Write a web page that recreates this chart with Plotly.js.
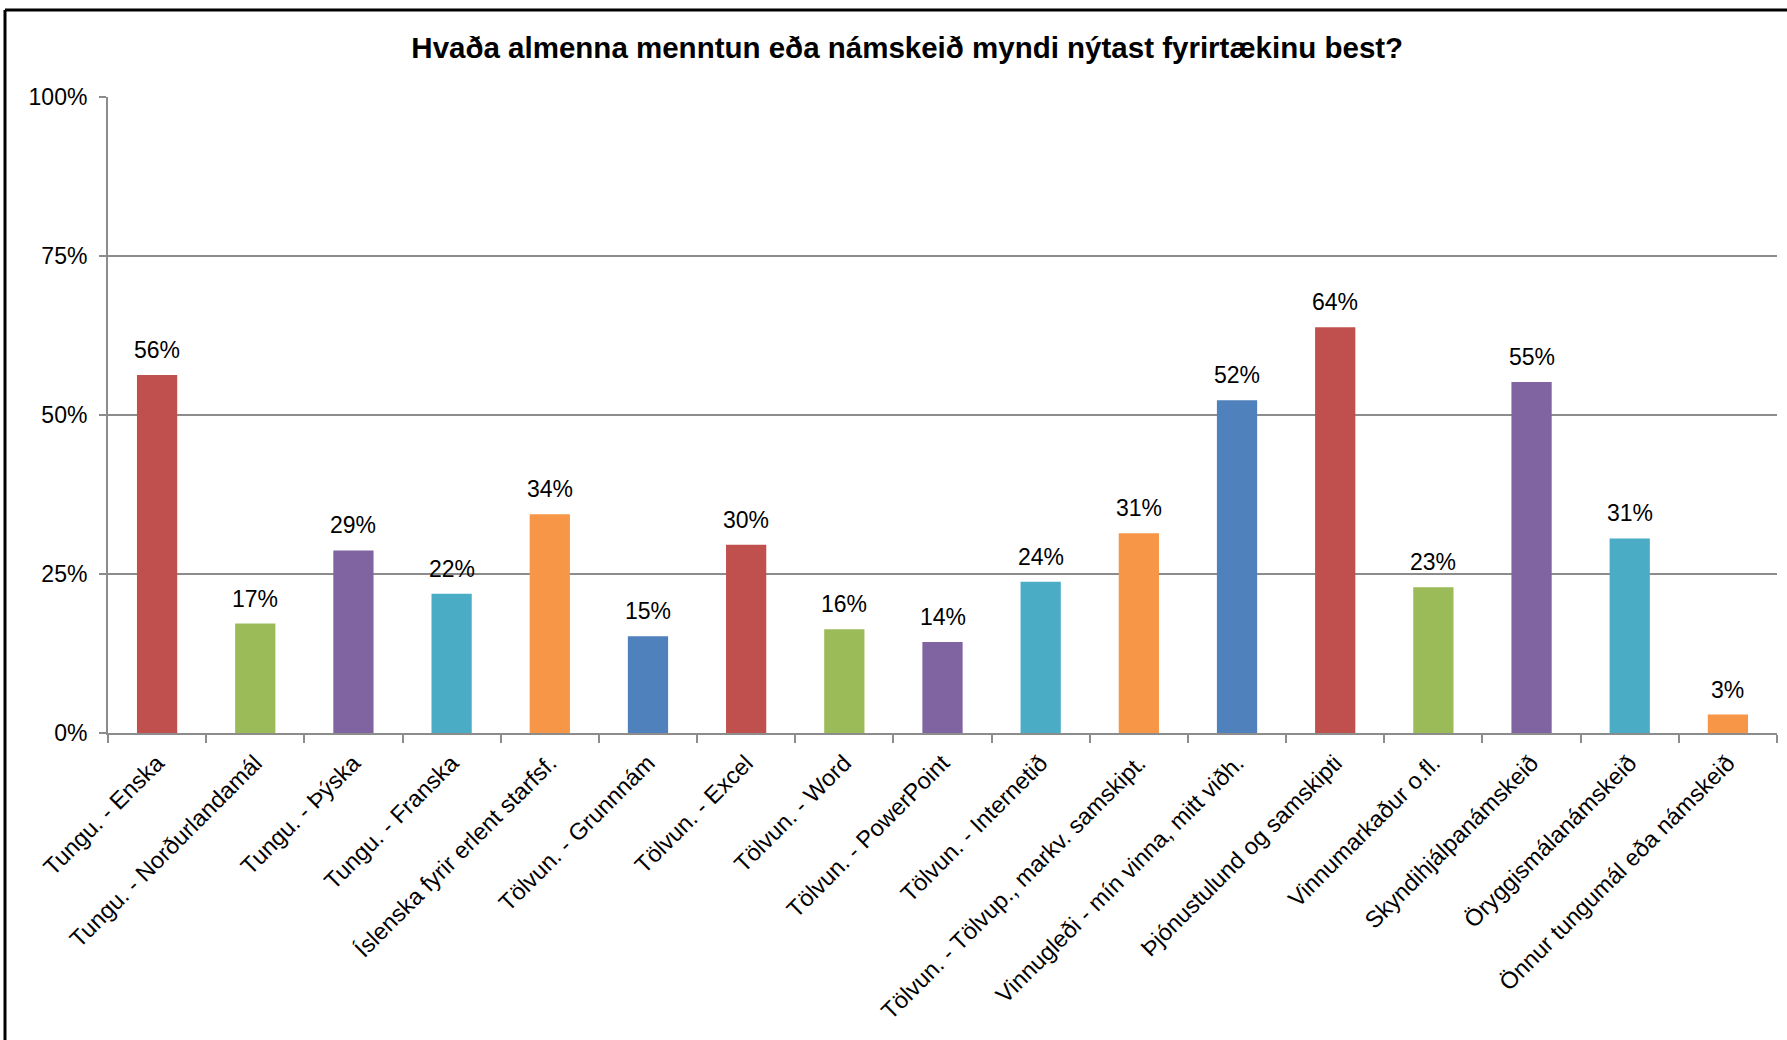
<!DOCTYPE html>
<html>
<head>
<meta charset="utf-8">
<script src="https://cdn.plot.ly/plotly-3.0.1.min.js"></script>
<style>
html,body{margin:0;padding:0;background:#fff;}
#chart{width:1787px;height:1040px;}
</style>
</head>
<body>
<div id="chart"></div>
<script>
const categories = [
  "Tungu. - Enska",
  "Tungu. - Norðurlandamál",
  "Tungu. - Þýska",
  "Tungu. - Franska",
  "Íslenska fyrir erlent starfsf.",
  "Tölvun. - Grunnnám",
  "Tölvun. - Excel",
  "Tölvun. - Word",
  "Tölvun. - PowerPoint",
  "Tölvun. - Internetið",
  "Tölvun. - Tölvup., markv. samskipt.",
  "Vinnugleði - mín vinna, mitt viðh.",
  "Þjónustulund og samskipti",
  "Vinnumarkaður o.fl.",
  "Skyndihjálpanámskeið",
  "Öryggismálanámskeið",
  "Önnur tungumál eða námskeið"
];
const values = [0.563, 0.172, 0.287, 0.219, 0.344, 0.152, 0.296, 0.163, 0.143, 0.238, 0.314, 0.523, 0.638, 0.229, 0.552, 0.306, 0.029];
const palette = ["#C0504D", "#9BBB59", "#8064A2", "#4BACC6", "#F79646", "#4F81BD"];
const yTickVals = [0, 0.25, 0.5, 0.75, 1];
const yTickText = ["0%", "25%", "50%", "75%", "100%"];
const titleText = "Hvaða almenna menntun eða námskeið myndi nýtast fyrirtækinu best?";

const FONT = "Liberation Sans, Arial, sans-serif";
const barColors = categories.map((c, i) => palette[i % palette.length]);

const W = 1787, H = 1040;
const mL = 108, mR = 10, mT = 97, mB = 307;
const pw = W - mL - mR, ph = H - mT - mB;
const px = x => (x - mL) / pw;
const py = y => (H - mB - y) / ph;

const trace = {
  type: "bar",
  x: categories,
  y: values,
  marker: {color: barColors, line: {width: 0}},
  hoverinfo: "x+y"
};

const labels = categories.map((c, i) => ({
  x: c,
  y: values[i],
  xref: "x",
  yref: "y",
  text: Math.round(values[i] * 100) + "%",
  showarrow: false,
  yanchor: "bottom",
  yshift: 10,
  font: {family: FONT, size: 23, color: "#000"}
}));

const layout = {
  width: W, height: H,
  margin: {l: mL, r: mR, t: mT, b: mB, pad: 0},
  paper_bgcolor: "#fff",
  plot_bgcolor: "#fff",
  showlegend: false,
  bargap: 0.59,
  title: {
    text: "<b>" + titleText + "</b>",
    font: {family: FONT, size: 29.5, color: "#000"},
    x: 0.5077, xanchor: "center",
    y: 1 - 48 / H, yanchor: "middle", yref: "container"
  },
  xaxis: {
    type: "category",
    tickangle: -45,
    ticks: "outside",
    tickson: "boundaries",
    ticklen: 8,
    tickwidth: 2,
    tickcolor: "#8c8c8c",
    ticklabelstandoff: 5,
    showline: true,
    linecolor: "#8c8c8c",
    linewidth: 2,
    showgrid: false,
    automargin: false,
    tickfont: {family: FONT, size: 23.5, color: "#000"},
    fixedrange: true
  },
  yaxis: {
    range: [0, 1],
    tickvals: yTickVals,
    ticktext: yTickText,
    ticks: "outside",
    ticklen: 7,
    tickwidth: 2,
    tickcolor: "#8c8c8c",
    ticklabelstandoff: 7,
    showline: true,
    linecolor: "#8c8c8c",
    linewidth: 2,
    showgrid: true,
    gridcolor: "#8c8c8c",
    gridwidth: 2,
    zeroline: false,
    automargin: false,
    tickfont: {family: FONT, size: 23, color: "#000"},
    fixedrange: true
  },
  annotations: labels,
  shapes: [
    {type: "line", xref: "paper", yref: "paper", x0: px(5), x1: px(W + 5), y0: py(10), y1: py(10), line: {color: "#000", width: 3}},
    {type: "line", xref: "paper", yref: "paper", x0: px(5), x1: px(5), y0: py(10), y1: py(H + 5), line: {color: "#000", width: 3}}
  ]
};

Plotly.newPlot("chart", [trace], layout, {displayModeBar: false, staticPlot: true});
</script>
</body>
</html>
